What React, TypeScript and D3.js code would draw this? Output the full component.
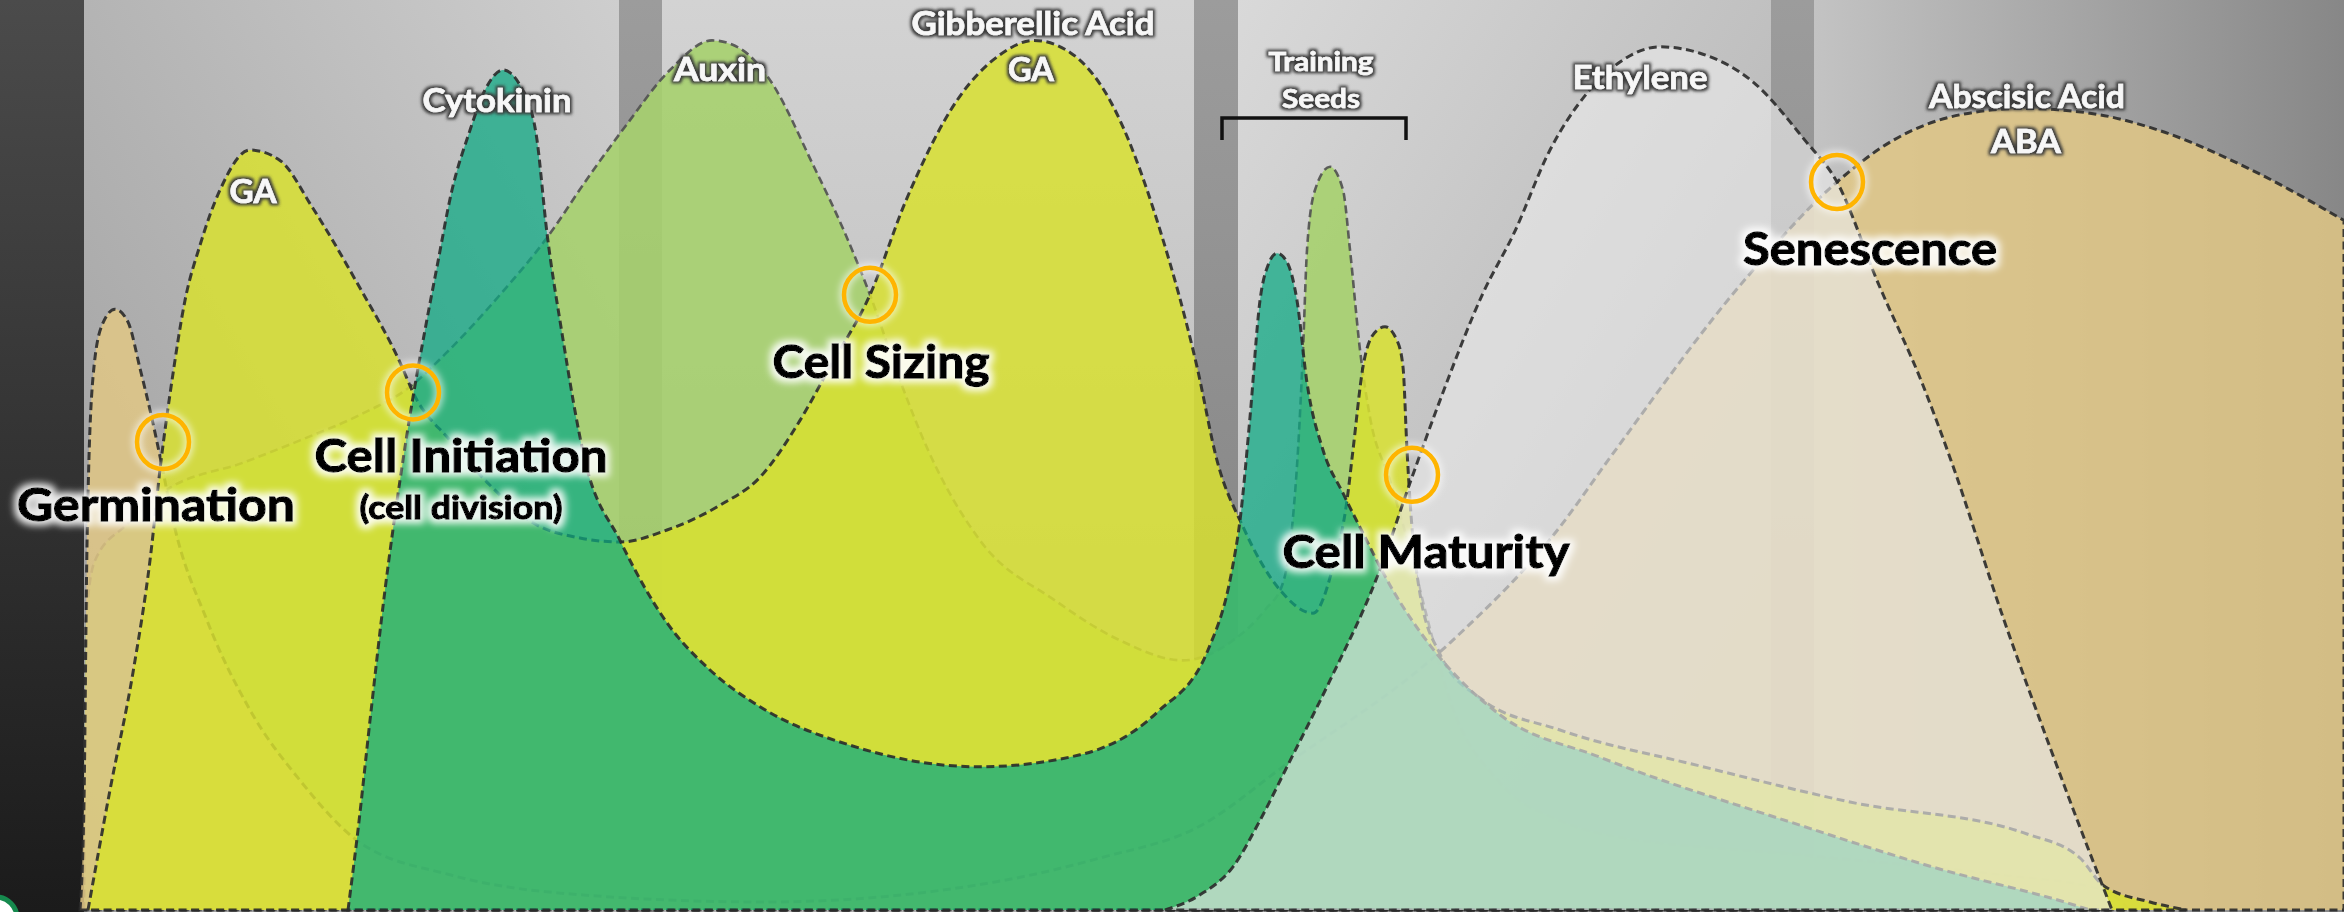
import React, { useEffect, useRef } from 'react';
import * as d3 from 'd3';

type Pt = [number, number];

// x: development stage (0–113), y: relative hormone level (0–110)
const auxin: Pt[] = [
  [0.2, 0], [0.3, 36.2], [0.75, 43.7], [2.35, 48.2], [4.15, 52.2], [8.25, 56], [11, 58.7],
  [14, 61.9], [16.5, 65.4], [18.3, 69.6], [21, 76.9], [23.25, 83.7], [25.5, 91.9], [27.25, 97.9],
  [29.5, 105], [31.6, 108.7], [33, 107.7], [34.4, 104.1], [36.7, 92.9], [38.25, 84.6], [39.5, 76.9],
  [41, 66.2], [42.4, 57.5], [45, 46.2], [48.75, 38.7], [52, 33.7], [55.15, 31.2], [57.65, 33.7],
  [59.25, 37.5], [60.15, 40.9], [60.65, 49.1], [60.9, 57.5], [61.15, 70], [61.35, 82.5], [61.75, 90],
  [62.5, 92.9], [63.15, 90], [63.5, 82.5], [64, 70], [64.5, 61.6], [65.5, 53.7], [66.5, 45],
  [67.35, 36.6], [68.5, 26.2], [71, 15.9], [74, 11.2], [76, 9.6], [86, 6.9], [96, 4.4],
  [101.15, 2.5], [102.5, 0],
];

const aba: Pt[] = [
  [0, 0], [0.2, 13.7], [0.35, 45.6], [0.65, 66.6], [1.1, 73.1], [1.75, 75.1], [2.4, 73.5],
  [3, 67.7], [3.6, 61.4], [4.05, 56.1], [4.65, 48.7], [6.35, 36.2], [8.5, 25], [11, 16.2],
  [13.85, 8.7], [18.5, 4.4], [24.05, 2.1], [34.25, 1], [45.75, 3.5], [51, 6.5], [56, 10.5],
  [60.15, 17.9], [68.5, 33.4], [74, 47.9], [76.4, 56.2], [83.35, 79.1], [87.85, 91],
  [90.65, 96.2], [94, 99.4], [97.2, 100.2], [101, 99.4], [103.4, 97.9], [108.9, 92.1], [113.2, 86.2],
];

const ga: Pt[] = [
  [0.4, 0], [1.5, 15], [2.65, 29.7], [3.5, 43.7], [4.05, 56.1], [4.6, 66.2], [5.25, 76.2],
  [6, 83.1], [7, 90], [8.5, 95], [10, 93.7], [11.6, 87.9], [13.85, 78.4], [16.1, 67.9],
  [16.65, 64.7], [18.5, 58.7], [20.5, 53.1], [22.65, 48.4], [25, 46.5], [27, 46], [29.35, 47.5],
  [32, 50.6], [34, 54.1], [36, 61.2], [37.5, 67.9], [39.5, 76.9], [41.3, 88.7], [43.85, 101.2],
  [46, 106.9], [47.7, 108.7], [49.5, 107.2], [51.5, 101.2], [54.05, 84.6], [55.85, 67.9],
  [56.85, 56.2], [58.15, 47.9], [60, 40], [61.65, 37.1], [62.65, 42.9], [63.35, 51.2],
  [63.65, 57.5], [64.15, 67.9], [64.65, 71.9], [65.25, 72.9], [65.85, 71.2], [66.15, 67.9],
  [66.35, 57.5], [66.5, 51.2], [67, 39.5], [68, 32], [70, 26.5], [74, 22.5], [81, 18],
  [88.5, 13.5], [97.35, 9.5], [100, 6.5], [101.15, 3.1], [103.5, 1], [105.3, 0],
];

const cytokinin: Pt[] = [
  [13.4, 0], [13.9, 10], [14.5, 23.7], [15.25, 40], [16, 53.7], [16.65, 64.1], [17.25, 72.5],
  [17.85, 80.4], [18.6, 90], [19.45, 97.1], [20.25, 102.5], [21.15, 105], [22, 103.1],
  [22.8, 97.1], [23.35, 84.6], [24.1, 72.1], [25.25, 56.2], [27, 46.2], [29.35, 35.9],
  [31.5, 30], [34, 25.4], [38.5, 20.6], [44.95, 17.9], [50, 19.4], [53.85, 24.7], [56.4, 32.5],
  [57.6, 42.5], [58, 48.7], [58.5, 61.6], [59, 76.2], [59.4, 80.6], [59.85, 82.1], [60.35, 81],
  [60.85, 76.2], [61.35, 65.9], [62.15, 57.5], [63.15, 52.1], [64.15, 47.1], [65.5, 40.6],
  [67.5, 33.1], [71, 24.4], [76, 19.1], [86, 10.6], [92.6, 5.4], [99.75, 0.6], [100.5, 0],
];

const ethylene: Pt[] = [
  [54.25, 0], [56, 1.9], [57.65, 5.4], [59, 11.2], [60.35, 17.9], [62.5, 28.7], [64.85, 41.6],
  [66.6, 54.1], [68, 63.7], [70.15, 77.1], [71.7, 84.6], [73.5, 95], [75.35, 102.1], [77, 106],
  [79, 107.9], [81, 107.1], [83.7, 103.4], [86.25, 96.2], [87.85, 91], [89.9, 78.4], [92.1, 65.9],
  [93.55, 56.2], [96.15, 36.6], [98.55, 20], [100.25, 8.7], [101.15, 2.9], [101.6, 0],
];

const hormoneNames = ['Cytokinin', 'GA', 'Auxin', 'Gibberellic Acid', 'GA', 'Training', 'Seeds', 'Ethylene', 'Abscisic Acid', 'ABA'];
const stageNames = ['Germination', 'Cell Initiation', '(cell division)', 'Cell Sizing', 'Cell Maturity', 'Senescence'];
// crossing points marked with a ring: [stage, level]
const stageMarks: Pt[] = [[4.15, 58.5], [16.65, 64.7], [39.5, 76.9], [66.6, 54.4], [87.85, 91]];

const W = 2344;
const H = 912;

export default function App() {
  const svgRef = useRef<SVGSVGElement>(null);

  useEffect(() => {
    if (!svgRef.current) return;
    const svg = d3.select(svgRef.current);
    svg.selectAll('*').remove();

    const x = d3.scaleLinear().domain([0, 113]).range([80, 2340]);
    const y = d3.scaleLinear().domain([0, 110]).range([910, 30]);

    const defs = svg.append('defs');
    const grad = (id: string, x1: number, y1: number, x2: number, y2: number, stops: [number, string][]) => {
      const g = defs.append('linearGradient').attr('id', id)
        .attr('x1', x1).attr('y1', y1).attr('x2', x2).attr('y2', y2);
      stops.forEach(([o, c]) => g.append('stop').attr('offset', o).attr('stop-color', c));
    };
    grad('bgStrip', 0, 0, 0, 1, [[0, '#4b4b4b'], [1, '#1b1b1b']]);
    grad('bgP1', 0, 1, 1, 0, [[0, '#9a9a9a'], [1, '#cecece']]);
    grad('bgP2', 0, 0, 0, 1, [[0, '#d3d3d3'], [1, '#b0b0b0']]);
    grad('bgP3', 0, 0, 1, 1, [[0, '#d9d9d9'], [1, '#a8a8a8']]);
    grad('bgP4', 0, 0, 1, 0, [[0, '#c3c3c3'], [1, '#878787']]);
    grad('bgSep', 0, 0, 0, 1, [[0, '#9c9c9c'], [1, '#7c7c7c']]);

    const halo = (id: string, color: string, r: number, blur: number, op: number) => {
      const f = defs.append('filter').attr('id', id)
        .attr('x', '-15%').attr('y', '-50%').attr('width', '130%').attr('height', '200%');
      f.append('feMorphology').attr('in', 'SourceAlpha').attr('operator', 'dilate').attr('radius', r).attr('result', 'd');
      f.append('feGaussianBlur').attr('in', 'd').attr('stdDeviation', blur).attr('result', 'b');
      f.append('feFlood').attr('flood-color', color).attr('flood-opacity', op).attr('result', 'c');
      f.append('feComposite').attr('in', 'c').attr('in2', 'b').attr('operator', 'in').attr('result', 'g');
      const m = f.append('feMerge');
      m.append('feMergeNode').attr('in', 'g');
      m.append('feMergeNode').attr('in', 'SourceGraphic');
    };
    halo('haloLight', '#ffffff', 3.5, 3.5, 0.9);
    halo('haloDark', '#3a3a3a', 1.6, 1.8, 1);
    defs.append('filter').attr('id', 'soft').attr('x', '-50%').attr('y', '-50%').attr('width', '200%').attr('height', '200%')
      .append('feGaussianBlur').attr('stdDeviation', 3);

    // background panels
    const panels: [number, number, string][] = [
      [0.2, 26.95, 'bgP1'], [26.95, 29.1, 'bgSep'], [29.1, 55.7, 'bgP2'], [55.7, 57.9, 'bgSep'],
      [57.9, 84.55, 'bgP3'], [84.55, 86.7, 'bgSep'], [86.7, 113.2, 'bgP4'],
    ];
    svg.append('rect').attr('width', W).attr('height', H).attr('fill', '#bdbdbd');
    panels.forEach(([a, b, id]) => {
      svg.append('rect').attr('x', x(a)).attr('y', 0).attr('width', x(b) - x(a)).attr('height', H)
        .attr('fill', `url(#${id})`);
    });
    svg.append('rect').attr('x', 0).attr('y', 0).attr('width', x(0.2)).attr('height', H).attr('fill', 'url(#bgStrip)');

    // hormone areas, bottom to top
    const series = [
      { data: auxin, fill: '#a6d06e', op: 0.9, stroke: '#505050', sw: 2.6 },
      { data: aba, fill: '#e1c785', op: 0.85, stroke: '#2a2a2a', sw: 3 },
      { data: ga, fill: '#d8e030', op: 0.85, stroke: '#2a2a2a', sw: 3 },
      { data: cytokinin, fill: '#0aa982', op: 0.72, stroke: '#2a2a2a', sw: 3 },
      { data: ethylene, fill: '#e8e8e8', op: 0.66, stroke: '#2a2a2a', sw: 3 },
    ];
    const area = d3.area<Pt>()
      .x(d => x(d[0]))
      .y0(y(0))
      .y1(d => y(d[1]))
      .curve(d3.curveMonotoneX);

    const g = svg.append('g');
    series.forEach(s => {
      const d = area(s.data) as string;
      g.append('path').attr('d', d).attr('fill', s.fill).attr('fill-opacity', s.op);
      g.append('path').attr('d', d).attr('fill', 'none')
        .attr('stroke', s.stroke).attr('stroke-width', s.sw)
        .attr('stroke-dasharray', '8 4.5').attr('stroke-opacity', 0.9);
    });

    // stage rings
    stageMarks.forEach(([t, l]) => {
      g.append('ellipse').attr('cx', x(t)).attr('cy', y(l)).attr('rx', 26).attr('ry', 27)
        .attr('fill', 'none').attr('stroke', '#ffffff').attr('stroke-width', 10)
        .attr('stroke-opacity', 0.55).attr('filter', 'url(#soft)');
      g.append('ellipse').attr('cx', x(t)).attr('cy', y(l)).attr('rx', 26).attr('ry', 27)
        .attr('fill', 'none').attr('stroke', '#ffb400').attr('stroke-width', 4.5);
    });

    // training seeds bracket
    const bx0 = x(57.1), bx1 = x(66.3), by0 = y(99), by1 = y(96.25);
    g.append('path').attr('d', `M${bx0},${by1}V${by0}H${bx1}V${by1}`)
      .attr('fill', 'none').attr('stroke', '#111').attr('stroke-width', 3.5);

    const font = "Lato, 'Open Sans', 'DejaVu Sans', sans-serif";

    // hormone labels: [stage, level, width px, font size]
    const hormoneAt: [number, number, number, number][] = [
      [20.85, 99.75, 149, 32], [8.65, 88.4, 47, 32], [32, 103.6, 92, 32], [47.65, 109.4, 243, 32],
      [47.55, 103.6, 46, 32], [62.05, 104.9, 105, 27], [62.05, 100.25, 78, 27], [78, 102.6, 135, 32],
      [97.35, 100.25, 196, 32], [97.3, 94.6, 70, 32],
    ];
    hormoneNames.forEach((name, i) => {
      const [t, l, w, fs] = hormoneAt[i];
      g.append('text').attr('x', x(t)).attr('y', y(l)).attr('text-anchor', 'middle')
        .attr('font-family', font).attr('font-weight', 700).attr('font-size', fs)
        .attr('fill', '#f7f7f7').attr('stroke', '#f7f7f7').attr('stroke-width', 0.6)
        .attr('textLength', w).attr('lengthAdjust', 'spacingAndGlyphs')
        .attr('filter', 'url(#haloDark)').text(name);
    });

    // stage labels: [stage, level, width px, font size]
    const stageAt: [number, number, number, number][] = [
      [3.8, 48.6, 278, 46], [19.05, 54.75, 293, 46], [19.05, 48.9, 203, 32],
      [40.05, 66.5, 217, 46], [67.3, 42.75, 287, 46], [89.5, 80.6, 254, 46],
    ];
    stageNames.forEach((name, i) => {
      const [t, l, w, fs] = stageAt[i];
      g.append('text').attr('x', x(t)).attr('y', y(l)).attr('text-anchor', 'middle')
        .attr('font-family', font).attr('font-weight', 700).attr('font-size', fs)
        .attr('fill', '#000').attr('stroke', '#000').attr('stroke-width', 1.3)
        .attr('textLength', w).attr('lengthAdjust', 'spacingAndGlyphs')
        .attr('filter', 'url(#haloLight)').text(name);
    });

    // corner badge
    svg.append('circle').attr('cx', -4).attr('cy', 918).attr('r', 21)
      .attr('fill', '#fff').attr('stroke', '#168a4e').attr('stroke-width', 5);
  }, []);

  return (
    <svg
      ref={svgRef}
      width={W}
      height={H}
      style={{ position: 'absolute', left: 0, top: 0, display: 'block' }}
    />
  );
}
